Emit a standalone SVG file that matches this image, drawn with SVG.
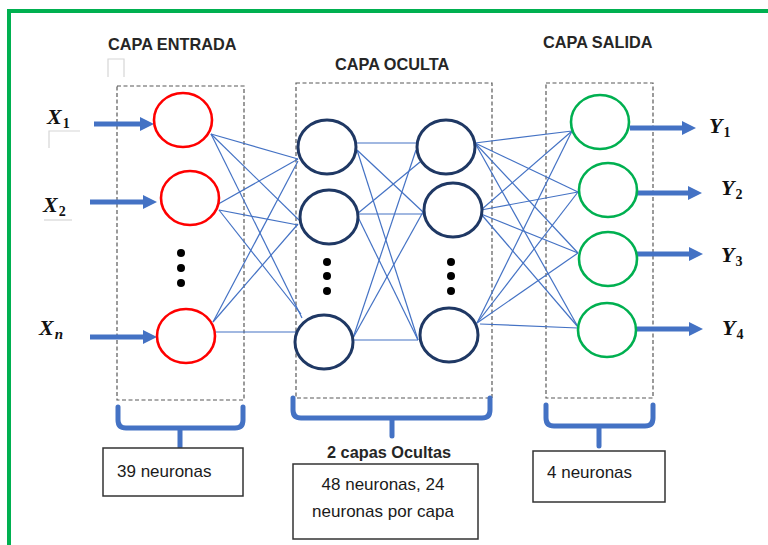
<svg xmlns="http://www.w3.org/2000/svg" width="768" height="545" viewBox="0 0 768 545">
<defs>
<style>
.frame{fill:none;stroke:#00B050;stroke-width:4}
.dbox{fill:none;stroke:#595959;stroke-width:1.2;stroke-dasharray:4 2.5}
.in{fill:#fff;stroke:#FF0000;stroke-width:2.6}
.hid{fill:#fff;stroke:#1F3864;stroke-width:3}
.out{fill:#fff;stroke:#00B050;stroke-width:2.6}
.conn line{stroke:#4472C4;stroke-width:1.2}
.conn line.arr{stroke:#4472C4;stroke-width:5;marker-end:url(#ah)}
.brace{fill:none;stroke:#4472C4;stroke-width:5;stroke-linecap:round;stroke-linejoin:round}
.tbox{fill:#fff;stroke:#333;stroke-width:1.5}
.hdr{font-family:"Liberation Sans",Arial,sans-serif;font-weight:bold;font-size:16.3px;fill:#262626}
.txt{font-family:"Liberation Sans",Arial,sans-serif;font-size:17px;fill:#1a1a1a}
.var{font-family:"Liberation Serif","Times New Roman",serif;font-weight:bold;font-style:italic;font-size:22px;fill:#111}
.sub{font-style:normal;font-size:14px}
.subi{font-size:15px}
.dot{fill:#000}
.faint{fill:none;stroke:#d6d6d6;stroke-width:1.2}
</style>
<marker id="ah" markerUnits="userSpaceOnUse" markerWidth="14" markerHeight="14" refX="0" refY="7" orient="auto">
<path d="M0,0 L14,7 L0,14 z" fill="#4472C4"/>
</marker>
</defs>
<rect width="768" height="545" fill="#fff"/>
<rect class="frame" x="9" y="11" width="820" height="600"/>

<g id="artifacts">
<path class="faint" d="M108,77 L108,59 L124,59 L124,77"/>
<path class="faint" d="M49,148 L49,131 L80,131"/>
<path class="faint" d="M44,220 L72,220"/>
</g>

<g id="headers">
<text class="hdr" x="108" y="50">CAPA ENTRADA</text>
<text class="hdr" x="335" y="70">CAPA OCULTA</text>
<text class="hdr" x="543" y="48">CAPA SALIDA</text>
</g>

<g id="layer-boxes">
<rect class="dbox" x="117" y="86" width="127" height="314"/>
<rect class="dbox" x="296" y="83" width="196" height="315"/>
<rect class="dbox" x="546" y="83" width="107" height="315"/>
</g>

<g id="connectors" class="conn">
<!-- input -> hidden 1 -->
<line x1="211" y1="134" x2="298" y2="159"/>
<line x1="211" y1="134" x2="300" y2="221"/>
<line x1="211" y1="134" x2="302" y2="318"/>
<line x1="213" y1="207" x2="298" y2="159"/>
<line x1="219" y1="210" x2="298" y2="225"/>
<line x1="219" y1="210" x2="301" y2="314"/>
<line x1="213" y1="322" x2="298" y2="161"/>
<line x1="213" y1="322" x2="298" y2="224"/>
<line x1="215" y1="332" x2="297" y2="332"/>
<!-- hidden 1 -> hidden 2 -->
<line x1="356" y1="143" x2="416" y2="143"/>
<line x1="357" y1="150" x2="423" y2="212"/>
<line x1="357" y1="150" x2="418" y2="340"/>
<line x1="357" y1="214" x2="420" y2="162"/>
<line x1="357" y1="214" x2="424" y2="214"/>
<line x1="357" y1="215" x2="418" y2="340"/>
<line x1="353" y1="338" x2="416" y2="150"/>
<line x1="353" y1="338" x2="423" y2="212"/>
<line x1="353" y1="340" x2="418" y2="340"/>
<!-- hidden 2 -> output -->
<line x1="475" y1="143" x2="572" y2="131"/>
<line x1="475" y1="143" x2="578" y2="192"/>
<line x1="475" y1="143" x2="578" y2="253"/>
<line x1="475" y1="143" x2="578" y2="327"/>
<line x1="481" y1="210" x2="572" y2="131"/>
<line x1="481" y1="210" x2="578" y2="192"/>
<line x1="481" y1="214" x2="578" y2="253"/>
<line x1="481" y1="214" x2="578" y2="327"/>
<line x1="477" y1="323" x2="572" y2="131"/>
<line x1="477" y1="323" x2="578" y2="192"/>
<line x1="477" y1="323" x2="578" y2="253"/>
<line x1="480" y1="324" x2="578" y2="328"/>
<!-- input arrows -->
<line class="arr" x1="94" y1="124" x2="140" y2="124"/>
<line class="arr" x1="90" y1="202" x2="143" y2="202"/>
<line class="arr" x1="90" y1="337" x2="143" y2="337"/>
<!-- output arrows -->
<line class="arr" x1="630" y1="128" x2="682" y2="128"/>
<line class="arr" x1="637" y1="193" x2="688" y2="193"/>
<line class="arr" x1="637" y1="254" x2="689" y2="254"/>
<line class="arr" x1="637" y1="329" x2="689" y2="329"/>
</g>

<g id="input-layer">
<g id="in1"><ellipse class="in" cx="183" cy="120" rx="29" ry="27"/></g>
<g id="in2"><ellipse class="in" cx="190" cy="198" rx="29" ry="27"/></g>
<g id="in-dots"><circle class="dot" cx="181" cy="253" r="4"/><circle class="dot" cx="181" cy="268" r="4"/><circle class="dot" cx="181" cy="283" r="4"/></g>
<g id="inN"><ellipse class="in" cx="186" cy="336" rx="29" ry="27"/></g>
</g>

<g id="hidden-layer-1">
<g id="h1a"><ellipse class="hid" cx="327" cy="147" rx="29" ry="27"/></g>
<g id="h1b"><ellipse class="hid" cx="329" cy="217" rx="29" ry="27"/></g>
<g id="h1-dots"><circle class="dot" cx="327" cy="262" r="4"/><circle class="dot" cx="327" cy="276" r="4"/><circle class="dot" cx="327" cy="291" r="4"/></g>
<g id="h1c"><ellipse class="hid" cx="324" cy="342" rx="29" ry="27"/></g>
</g>

<g id="hidden-layer-2">
<g id="h2a"><ellipse class="hid" cx="446" cy="147" rx="29" ry="27"/></g>
<g id="h2b"><ellipse class="hid" cx="453" cy="210" rx="29" ry="27"/></g>
<g id="h2-dots"><circle class="dot" cx="451" cy="262" r="4"/><circle class="dot" cx="451" cy="276" r="4"/><circle class="dot" cx="451" cy="291" r="4"/></g>
<g id="h2c"><ellipse class="hid" cx="449" cy="335" rx="29" ry="27"/></g>
</g>

<g id="output-layer">
<g id="out1"><ellipse class="out" cx="600" cy="122" rx="29" ry="27"/></g>
<g id="out2"><ellipse class="out" cx="608" cy="190" rx="29" ry="27"/></g>
<g id="out3"><ellipse class="out" cx="608" cy="259" rx="29" ry="27"/></g>
<g id="out4"><ellipse class="out" cx="607" cy="330" rx="29" ry="27"/></g>
</g>

<g id="input-labels">
<text class="var" x="47" y="124">X<tspan class="sub" dx="1" dy="4">1</tspan></text>
<text class="var" x="43" y="212">X<tspan class="sub" dx="1" dy="4">2</tspan></text>
<text class="var" x="39" y="335">X<tspan class="subi" dx="1" dy="4">n</tspan></text>
</g>

<g id="output-labels">
<text class="var" x="709" y="133">Y<tspan class="sub" dx="1" dy="4">1</tspan></text>
<text class="var" x="721" y="195">Y<tspan class="sub" dx="1" dy="4">2</tspan></text>
<text class="var" x="721" y="262">Y<tspan class="sub" dx="1" dy="4">3</tspan></text>
<text class="var" x="722" y="335">Y<tspan class="sub" dx="1" dy="4">4</tspan></text>
</g>

<g id="braces">
<path class="brace" d="M118,407 L118,420 Q118,428 126,428 L235,428 Q243,428 243,420 L243,407 M180,428 L180,447"/>
<path class="brace" d="M293,398 L293,410 Q293,418 301,418 L482,418 Q490,418 490,410 L490,398 M392,418 L392,436"/>
<path class="brace" d="M546,405 L546,418 Q546,426 554,426 L645,426 Q653,426 653,418 L653,405 M599,426 L599,446"/>
</g>

<g id="box-input">
<rect class="tbox" x="103" y="448" width="140" height="48"/>
<text class="txt" x="117" y="477">39 neuronas</text>
</g>
<g id="box-hidden">
<text class="hdr" x="389" y="458" text-anchor="middle" font-size="16">2 capas Ocultas</text>
<rect class="tbox" x="293" y="464" width="185" height="75"/>
<text class="txt" x="383" y="490" text-anchor="middle">48 neuronas, 24</text>
<text class="txt" x="383" y="517" text-anchor="middle">neuronas por capa</text>
</g>
<g id="box-output">
<rect class="tbox" x="533" y="451" width="132" height="51"/>
<text class="txt" x="547" y="478">4 neuronas</text>
</g>
</svg>
